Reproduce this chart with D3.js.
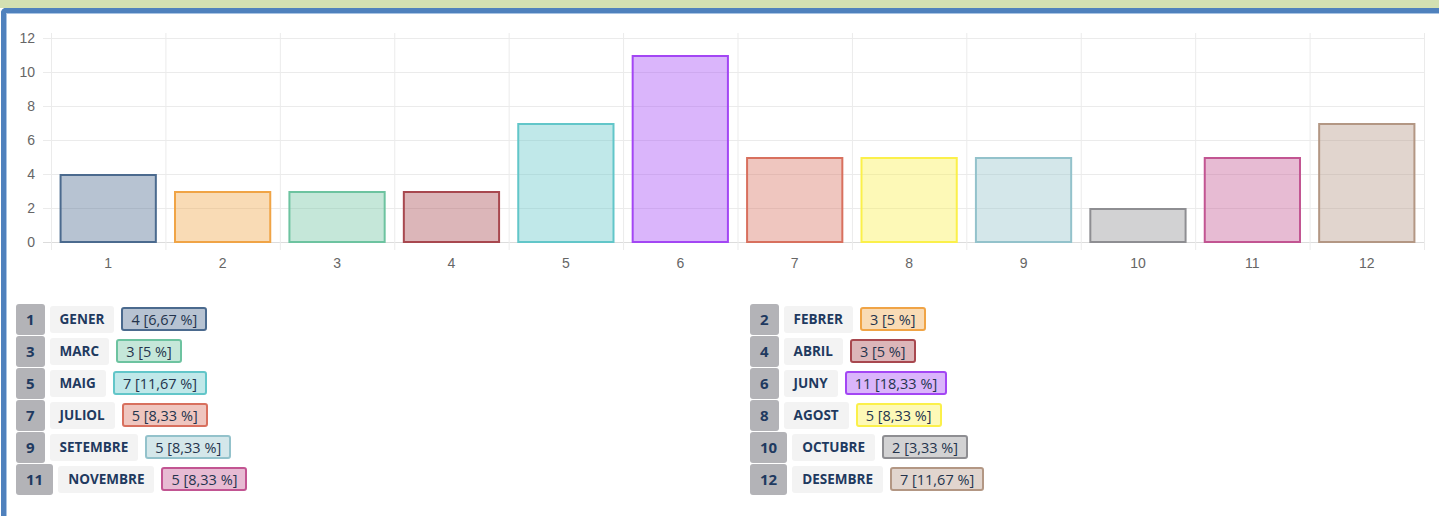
<!DOCTYPE html>
<html>
<head>
<meta charset="utf-8">
<script src="https://cdn.jsdelivr.net/npm/d3@7"></script>
<style>
  html, body { margin: 0; padding: 0; }
  body { width: 1439px; height: 516px; overflow: hidden; background: #fff; position: relative; font-family: "Open Sans", sans-serif; }
  #topband { position: absolute; left: 0; top: 0; width: 1439px; height: 8px; background: #d3e0b2; }
  #panel { position: absolute; left: 1px; top: 8px; width: 1460px; height: 540px; border: 5px solid #4f81bd; border-right: none; border-bottom: none; border-top-left-radius: 5px; box-shadow: inset 1px 1px 0 #a9c4e4; background: #fff; }
  #chart { position: absolute; left: 0; top: 0; }
  .legend { position: absolute; top: 303px; }
  .row { height: 32px; display: flex; align-items: center; }
  .num { box-sizing: border-box; min-width: 28px; height: 31px; padding: 0 10px; border-radius: 3px; background: #b3b3b7; color: #1f3a60; font-weight: 700; font-size: 15px; display: flex; align-items: center; justify-content: center; }
  .lab { box-sizing: border-box; height: 27px; margin-left: 5px; padding: 0 10px; border-radius: 3px; background: #f3f3f3; color: #1f3a60; font-weight: 700; font-size: 13.5px; display: flex; align-items: center; }
  .val { box-sizing: border-box; height: 24px; margin-left: 7px; padding: 0 8px; border-radius: 3px; border: 2px solid; color: #24344d; font-size: 14.5px; display: flex; align-items: center; }
</style>
</head>
<body>
<div id="topband"></div>
<div id="panel"></div>
<svg id="chart" width="1439" height="300"></svg>
<div id="legendLeft" class="legend" style="left:16px"></div>
<div id="legendRight" class="legend" style="left:750px"></div>
<script>
// months and counts
const categories = ['1', '2', '3', '4', '5', '6', '7', '8', '9', '10', '11', '12'];
const monthNames = ['GENER', 'FEBRER', 'MARC', 'ABRIL', 'MAIG', 'JUNY', 'JULIOL', 'AGOST', 'SETEMBRE', 'OCTUBRE', 'NOVEMBRE', 'DESEMBRE'];
const values = [4, 3, 3, 3, 7, 11, 5, 5, 5, 2, 5, 7];
const percents = ['6,67', '5', '5', '5', '11,67', '18,33', '8,33', '8,33', '8,33', '3,33', '8,33', '11,67'];
const yTicks = [0, 2, 4, 6, 8, 10, 12];
const colors = ['#4b6a8e', '#f0a446', '#6dc3a0', '#a8484f', '#62c6c9', '#a346f4', '#d8705e', '#fbf04a', '#93c2cb', '#8e8e92', '#c25592', '#b39784'];

const svg = d3.select('#chart');
const plotLeft = 51, plotRight = 1424, plotTop = 38, plotBottom = 242;

const x = d3.scaleBand()
    .domain(categories)
    .range([plotLeft, plotRight])
    .paddingInner(0.15)
    .paddingOuter(0.075);

const xGrid = d3.scaleLinear().domain([0, categories.length]).range([plotLeft, plotRight]);

const y = d3.scaleLinear()
    .domain([0, 12])
    .range([plotBottom, plotTop]);

// grid
const grid = svg.append('g');
grid.selectAll('line.h')
    .data(yTicks)
    .join('line')
    .attr('class', 'h')
    .attr('x1', 43)
    .attr('x2', plotRight)
    .attr('y1', d => y(d) + 0.5)
    .attr('y2', d => y(d) + 0.5)
    .attr('stroke', d => d === 0 ? '#dcdcdc' : '#ebebeb')
    .attr('stroke-width', 1);

grid.selectAll('line.v')
    .data(d3.range(categories.length + 1))
    .join('line')
    .attr('class', 'v')
    .attr('x1', d => xGrid(d) + 0.5)
    .attr('x2', d => xGrid(d) + 0.5)
    .attr('y1', plotTop - 5)
    .attr('y2', plotBottom + 8)
    .attr('stroke', '#ebebeb')
    .attr('stroke-width', 1);

// axis labels
svg.append('g')
    .selectAll('text')
    .data(yTicks)
    .join('text')
    .attr('x', 35)
    .attr('y', d => y(d))
    .attr('dy', '0.36em')
    .attr('text-anchor', 'end')
    .attr('fill', '#666')
    .attr('font-family', 'Liberation Sans, Arial, sans-serif')
    .attr('font-size', 14)
    .text(d => d);

svg.append('g')
    .selectAll('text')
    .data(categories)
    .join('text')
    .attr('x', d => x(d) + x.bandwidth() / 2)
    .attr('y', 268)
    .attr('text-anchor', 'middle')
    .attr('fill', '#666')
    .attr('font-family', 'Liberation Sans, Arial, sans-serif')
    .attr('font-size', 14)
    .text(d => d);

// bars
svg.append('g')
    .selectAll('rect')
    .data(values)
    .join('rect')
    .attr('x', (d, i) => x(categories[i]) + 1)
    .attr('y', d => y(d) + 1)
    .attr('width', x.bandwidth() - 2)
    .attr('height', d => plotBottom - y(d) - 1)
    .attr('fill', (d, i) => colors[i])
    .attr('fill-opacity', 0.4)
    .attr('stroke', (d, i) => colors[i])
    .attr('stroke-width', 2);

// legend
const rows = values.map((v, i) => ({ i, v }));
function fillLegend(sel, items) {
    const row = d3.select(sel)
        .selectAll('div.row')
        .data(items)
        .join('div')
        .attr('class', 'row');
    row.append('div').attr('class', 'num').text(d => categories[d.i]);
    row.append('div').attr('class', 'lab').text(d => monthNames[d.i]);
    row.append('div').attr('class', 'val')
        .style('border-color', d => colors[d.i])
        .style('background', d => {
            const c = d3.color(colors[d.i]);
            c.opacity = 0.4;
            return c + '';
        })
        .text(d => `${d.v} [${percents[d.i]} %]`);
}
fillLegend('#legendLeft', rows.filter(d => d.i % 2 === 0));
fillLegend('#legendRight', rows.filter(d => d.i % 2 === 1));
</script>
</body>
</html>
